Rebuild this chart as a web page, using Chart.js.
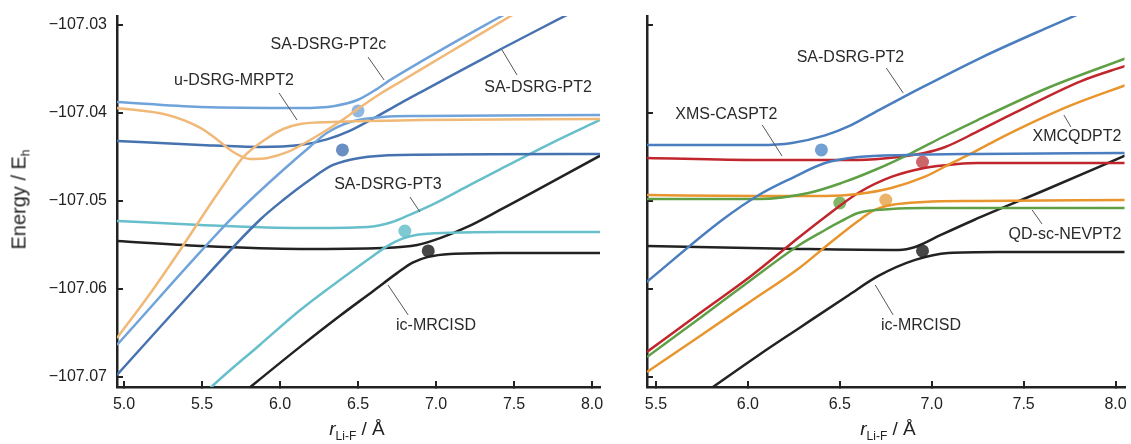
<!DOCTYPE html>
<html>
<head>
<meta charset="utf-8">
<title>LiF avoided crossing</title>
<script src="https://cdn.jsdelivr.net/npm/chart.js@4.4.1/dist/chart.umd.min.js"></script>
<style>
  body { margin:0; background:#fff; width:1131px; height:444px; overflow:hidden; position:relative;
         font-family:"Liberation Sans", Arial, sans-serif; }
  canvas { position:absolute; top:0; }
  #leftChart { left:0; }
  #rightChart { left:620px; }
  .xtitle { position:absolute; top:418px; width:200px; text-align:center; font-size:19px; color:#222; white-space:nowrap; }
  .xtitle sub { font-size:12px; vertical-align:-5px; }
  .ytitle { position:absolute; left:-80px; top:187px; width:200px; text-align:center; font-size:20px; color:#222;
            transform:rotate(-90deg); white-space:nowrap; }
  .ytitle sub { font-size:12px; vertical-align:-4px; }
</style>
</head>
<body>
<canvas id="leftChart" width="620" height="444"></canvas>
<canvas id="rightChart" width="511" height="444"></canvas>
<div class="ytitle">Energy / E<sub>h</sub></div>
<div class="xtitle" style="left:257px"><i>r</i><sub>Li-F</sub> / Å</div>
<div class="xtitle" style="left:788px"><i>r</i><sub>Li-F</sub> / Å</div>
<script>
// tick values
var yTicks = [-107.07, -107.06, -107.05, -107.04, -107.03];
var xTicksLeft = [5.0, 5.5, 6.0, 6.5, 7.0, 7.5, 8.0];
var xTicksRight = [5.5, 6.0, 6.5, 7.0, 7.5, 8.0];

// left panel, [r (Å), E (Eh)]
var mrcisdUpL = [[4.955,-107.05455],[5.49,-107.05511],[6.13,-107.05545],[6.66,-107.05534],[6.88,-107.055],[7.03,-107.0542],[7.2,-107.05295],[7.41,-107.05102],[8.06,-107.04477]];
var mrcisdLoL = [[5.71,-107.0726],[5.81,-107.07114],[6.13,-107.06655],[6.38,-107.0631],[6.6,-107.0602],[6.75,-107.0582],[6.85,-107.057],[6.95,-107.05635],[7.09,-107.05602],[7.41,-107.05591],[8.06,-107.05591]];
var pt3UpL = [[4.955,-107.05227],[5.49,-107.05273],[6.13,-107.05307],[6.56,-107.05295],[6.72,-107.05239],[6.83,-107.05159],[6.98,-107.0504],[7.2,-107.04835],[7.41,-107.0464],[7.73,-107.0435],[8.06,-107.0407]];
var pt3LoL = [[5.49,-107.0724],[5.56,-107.07114],[5.87,-107.06636],[6.13,-107.06239],[6.39,-107.0589],[6.56,-107.0567],[6.69,-107.0551],[6.78,-107.0543],[6.88,-107.05385],[7.09,-107.05362],[7.41,-107.05352],[8.06,-107.05352]];
var pt2UpL = [[4.955,-107.04318],[5.49,-107.04364],[5.87,-107.04386],[6.13,-107.04364],[6.3,-107.043],[6.45,-107.042],[6.6,-107.0406],[6.77,-107.0389],[6.9,-107.03765],[7.2,-107.0348],[7.42,-107.0327],[7.67,-107.0304],[7.83,-107.02895],[7.99,-107.0275]];
var pt2LoL = [[4.955,-107.06977],[5.36,-107.06182],[5.87,-107.05216],[6.02,-107.04989],[6.19,-107.04761],[6.34,-107.04591],[6.51,-107.04511],[6.77,-107.04477],[8.06,-107.04466]];
var pt2cUpL = [[4.955,-107.03875],[5.49,-107.03932],[6.13,-107.03943],[6.35,-107.0392],[6.5,-107.0385],[6.6,-107.0375],[6.72,-107.0361],[6.9,-107.0342],[7.1,-107.03215],[7.3,-107.03015],[7.45,-107.0287]];
var pt2cLoL = [[4.955,-107.06636],[5.68,-107.05216],[5.81,-107.04989],[6.02,-107.04648],[6.19,-107.04386],[6.3,-107.04227],[6.45,-107.04102],[6.66,-107.04045],[6.9,-107.04034],[8.06,-107.04023]];
var uMrpt2A = [[4.955,-107.03943],[5.28,-107.04023],[5.49,-107.0417],[5.6,-107.04307],[5.7,-107.04443],[5.81,-107.04523],[5.92,-107.04511],[6.05,-107.04443],[6.17,-107.0433],[6.3,-107.04193],[6.39,-107.04091],[6.49,-107.03965],[6.64,-107.03784],[6.79,-107.03625],[7.09,-107.03307],[7.49,-107.02886],[7.6,-107.02773]];
var uMrpt2B = [[4.955,-107.06557],[5.17,-107.06045],[5.36,-107.05557],[5.55,-107.05045],[5.66,-107.04761],[5.76,-107.04511],[5.92,-107.04284],[6.02,-107.04182],[6.13,-107.04125],[6.34,-107.04102],[6.9,-107.0408],[8.06,-107.04068]];
var dotPt2cL = [[6.5,-107.03977]];
var dotPt2L = [[6.4,-107.0442]];
var dotPt3L = [[6.8,-107.05341]];
var dotMrcisdL = [[6.95,-107.05568]];

// right panel
var pt2UpR = [[5.451,-107.04364],[6.06,-107.04364],[6.24,-107.04341],[6.42,-107.04255],[6.55,-107.0415],[6.71,-107.0397],[6.91,-107.0375],[7.27,-107.0337],[7.63,-107.0303],[7.95,-107.0274]];
var pt2LoR = [[5.45,-107.0592],[5.86,-107.05216],[6.06,-107.04932],[6.24,-107.04739],[6.42,-107.04568],[6.6,-107.045],[6.87,-107.04477],[7.25,-107.04466],[8.06,-107.04455]];
var casUp = [[5.451,-107.04511],[6.06,-107.04534],[6.6,-107.04534],[6.82,-107.045],[6.96,-107.04455],[7.07,-107.0439],[7.25,-107.0421],[7.45,-107.04],[7.81,-107.0364],[8.06,-107.0346]];
var casLo = [[5.451,-107.06716],[5.74,-107.06273],[6.01,-107.05864],[6.24,-107.05477],[6.42,-107.05182],[6.6,-107.04909],[6.78,-107.04727],[6.96,-107.04625],[7.14,-107.0458],[7.25,-107.04568],[8.06,-107.04568]];
var nevUp = [[5.451,-107.04977],[6.06,-107.04977],[6.33,-107.04909],[6.51,-107.04795],[6.69,-107.04648],[6.89,-107.04455],[7.06,-107.04273],[7.25,-107.0408],[7.63,-107.03716],[8.06,-107.03375]];
var nevLo = [[5.451,-107.06773],[5.74,-107.0633],[6.01,-107.05909],[6.28,-107.055],[6.42,-107.0533],[6.51,-107.05227],[6.6,-107.05136],[6.78,-107.05091],[6.96,-107.0508],[7.25,-107.0508],[8.06,-107.0508]];
var mcqUp = [[5.451,-107.04932],[6.06,-107.04943],[6.42,-107.04943],[6.6,-107.0492],[6.78,-107.04852],[6.96,-107.04727],[7.11,-107.04568],[7.21,-107.04466],[7.36,-107.043],[7.5,-107.04155],[7.75,-107.0392],[8.06,-107.0368]];
var mcqLo = [[5.451,-107.06943],[5.74,-107.06534],[6.01,-107.06148],[6.28,-107.05761],[6.44,-107.05489],[6.6,-107.05227],[6.69,-107.05102],[6.78,-107.05045],[6.96,-107.05011],[7.25,-107.05],[8.06,-107.04989]];
var mrcisdUpR = [[5.451,-107.05511],[6.28,-107.05545],[6.82,-107.05557],[6.91,-107.05523],[7.05,-107.05386],[7.23,-107.05216],[7.63,-107.04864],[8.06,-107.04477]];
var mrcisdLoR = [[5.74,-107.07216],[5.81,-107.07114],[6.06,-107.0675],[6.28,-107.06443],[6.55,-107.06068],[6.71,-107.05852],[6.91,-107.0567],[7.09,-107.05591],[7.36,-107.0558],[8.06,-107.0558]];
var dotPt2R = [[6.4,-107.0442]];
var dotCasR = [[6.95,-107.04557]];
var dotNevR = [[6.5,-107.05023]];
var dotMcqR = [[6.75,-107.04989]];
var dotMrcisdR = [[6.95,-107.05568]];

var fontFamily = '"Liberation Sans", Arial, sans-serif';
Chart.defaults.font.family = fontFamily;

function toXY(points) {
  return points.map(function(p){ return {x: p[0], y: p[1]}; });
}

function lineSet(points, colour) {
  return { data: toXY(points), borderColor: colour, borderWidth: 2.5, pointRadius: 0,
           showLine: true, fill: false, cubicInterpolationMode: 'monotone' };
}

function dotSet(points, colour) {
  return { data: toXY(points), backgroundColor: colour, borderWidth: 0, pointRadius: 6.5, showLine: false };
}

// text labels with their little pointer lines, in data units
function notesPlugin(notes) {
  return {
    id: 'curveNotes',
    afterDatasetsDraw: function(chart) {
      var ctx = chart.ctx, xs = chart.scales.x, ys = chart.scales.y;
      ctx.save();
      notes.forEach(function(n){
        ctx.strokeStyle = '#555';
        ctx.lineWidth = 1;
        ctx.beginPath();
        ctx.moveTo(xs.getPixelForValue(n.line[0]), ys.getPixelForValue(n.line[1]));
        ctx.lineTo(xs.getPixelForValue(n.line[2]), ys.getPixelForValue(n.line[3]));
        ctx.stroke();
        ctx.fillStyle = '#2a2a2a';
        ctx.font = '16px ' + fontFamily;
        ctx.textAlign = 'center';
        ctx.textBaseline = 'middle';
        ctx.fillText(n.text, xs.getPixelForValue(n.at[0]), ys.getPixelForValue(n.at[1]));
      });
      ctx.restore();
    }
  };
}

function makeScales(xMin, xMax, xTickVals, yWidth, showYLabels) {
  return {
    x: {
      type: 'linear', min: xMin, max: xMax,
      afterBuildTicks: function(s){ s.ticks = xTickVals.map(function(v){ return {value: v}; }); },
      afterFit: function(s){ s.height = 57; s.paddingLeft = 0; s.paddingRight = 0; },
      grid: { drawOnChartArea: false, drawTicks: true, tickLength: -6, color: '#222', lineWidth: 2 },
      border: { display: true, color: '#222', width: 2.5 },
      ticks: { padding: 14, color: '#222', font: { size: 16 }, maxRotation: 0, autoSkip: false,
               callback: function(v){ return Number(v).toFixed(1); } }
    },
    y: {
      type: 'linear', min: -107.07114, max: -107.02898,
      afterBuildTicks: function(s){ s.ticks = yTicks.map(function(v){ return {value: v}; }); },
      afterFit: function(s){ s.width = yWidth; s.paddingTop = 0; s.paddingBottom = 0; },
      grid: { drawOnChartArea: false, drawTicks: true, tickLength: -6, color: '#222', lineWidth: 2 },
      border: { display: true, color: '#222', width: 2.5 },
      ticks: { display: showYLabels, padding: 16, color: '#222', font: { size: 16 }, autoSkip: false,
               callback: function(v){ return '\u2212' + Math.abs(v).toFixed(2); } }
    }
  };
}

function renderPanel(id, datasets, scales, padRight, notes) {
  var ctx = document.getElementById(id).getContext('2d');
  return new Chart(ctx, {
    type: 'scatter',
    data: { datasets: datasets },
    options: {
      responsive: false,
      animation: false,
      layout: { padding: { left: 0, right: padRight, top: 16, bottom: 0 } },
      plugins: { legend: { display: false }, tooltip: { enabled: false } },
      scales: scales
    },
    plugins: [notesPlugin(notes)]
  });
}

var black = '#222222', darkBlue = '#4672b0', lightBlue = '#6fa3da', paleOrange = '#f0b978', teal = '#66bfcb';
var blue = '#4a7ebf', red = '#c0262c', orange = '#e8952d', green = '#5fa046';

renderPanel('leftChart', [
  lineSet(uMrpt2A, paleOrange),
  lineSet(uMrpt2B, paleOrange),
  lineSet(pt2cUpL, lightBlue),
  lineSet(pt2cLoL, lightBlue),
  lineSet(pt2UpL, darkBlue),
  lineSet(pt2LoL, darkBlue),
  lineSet(pt3UpL, teal),
  lineSet(pt3LoL, teal),
  lineSet(mrcisdUpL, black),
  lineSet(mrcisdLoL, black),
  dotSet(dotPt2cL, 'rgba(132,176,224,0.9)'),
  dotSet(dotPt2L, 'rgba(90,130,188,0.9)'),
  dotSet(dotPt3L, 'rgba(120,198,208,0.95)'),
  dotSet(dotMrcisdL, 'rgba(60,60,60,0.95)')
], makeScales(4.955, 8.051, xTicksLeft, 117, true), 20, [
  { text: 'SA-DSRG-PT2c', at: [6.31, -107.03227], line: [6.564, -107.03364, 6.667, -107.03625] },
  { text: 'u-DSRG-MRPT2', at: [5.705, -107.03636], line: [5.994, -107.03773, 6.109, -107.0408] },
  { text: 'SA-DSRG-PT2', at: [7.654, -107.03716], line: [7.423, -107.03284, 7.519, -107.03568] },
  { text: 'SA-DSRG-PT3', at: [6.692, -107.04818], line: [6.833, -107.04955, 6.897, -107.05125] },
  { text: 'ic-MRCISD', at: [7.0, -107.0642], line: [6.692, -107.05955, 6.821, -107.06295] }
]);

renderPanel('rightChart', [
  lineSet(pt2UpR, blue),
  lineSet(pt2LoR, blue),
  lineSet(nevUp, green),
  lineSet(nevLo, green),
  lineSet(mcqUp, orange),
  lineSet(mcqLo, orange),
  lineSet(casUp, red),
  lineSet(casLo, red),
  lineSet(mrcisdUpR, black),
  lineSet(mrcisdLoR, black),
  dotSet(dotPt2R, 'rgba(100,150,205,0.9)'),
  dotSet(dotCasR, 'rgba(200,85,90,0.9)'),
  dotSet(dotNevR, 'rgba(115,175,85,0.9)'),
  dotSet(dotMcqR, 'rgba(232,172,90,0.9)'),
  dotSet(dotMrcisdR, 'rgba(60,60,60,0.95)')
], makeScales(5.4514, 8.0486, xTicksRight, 27, false), 3, [
  { text: 'SA-DSRG-PT2', at: [6.558, -107.03375], line: [6.753, -107.03489, 6.845, -107.03773] },
  { text: 'XMS-CASPT2', at: [5.883, -107.04023], line: [6.078, -107.04136, 6.186, -107.04489] },
  { text: 'XMCQDPT2', at: [7.79, -107.04273], line: [7.719, -107.04023, 7.757, -107.04159] },
  { text: 'QD-sc-NEVPT2', at: [7.725, -107.05386], line: [7.546, -107.05102, 7.6, -107.05261] },
  { text: 'ic-MRCISD', at: [6.942, -107.0642], line: [6.693, -107.05955, 6.79, -107.06295] }
]);
</script>
</body>
</html>
